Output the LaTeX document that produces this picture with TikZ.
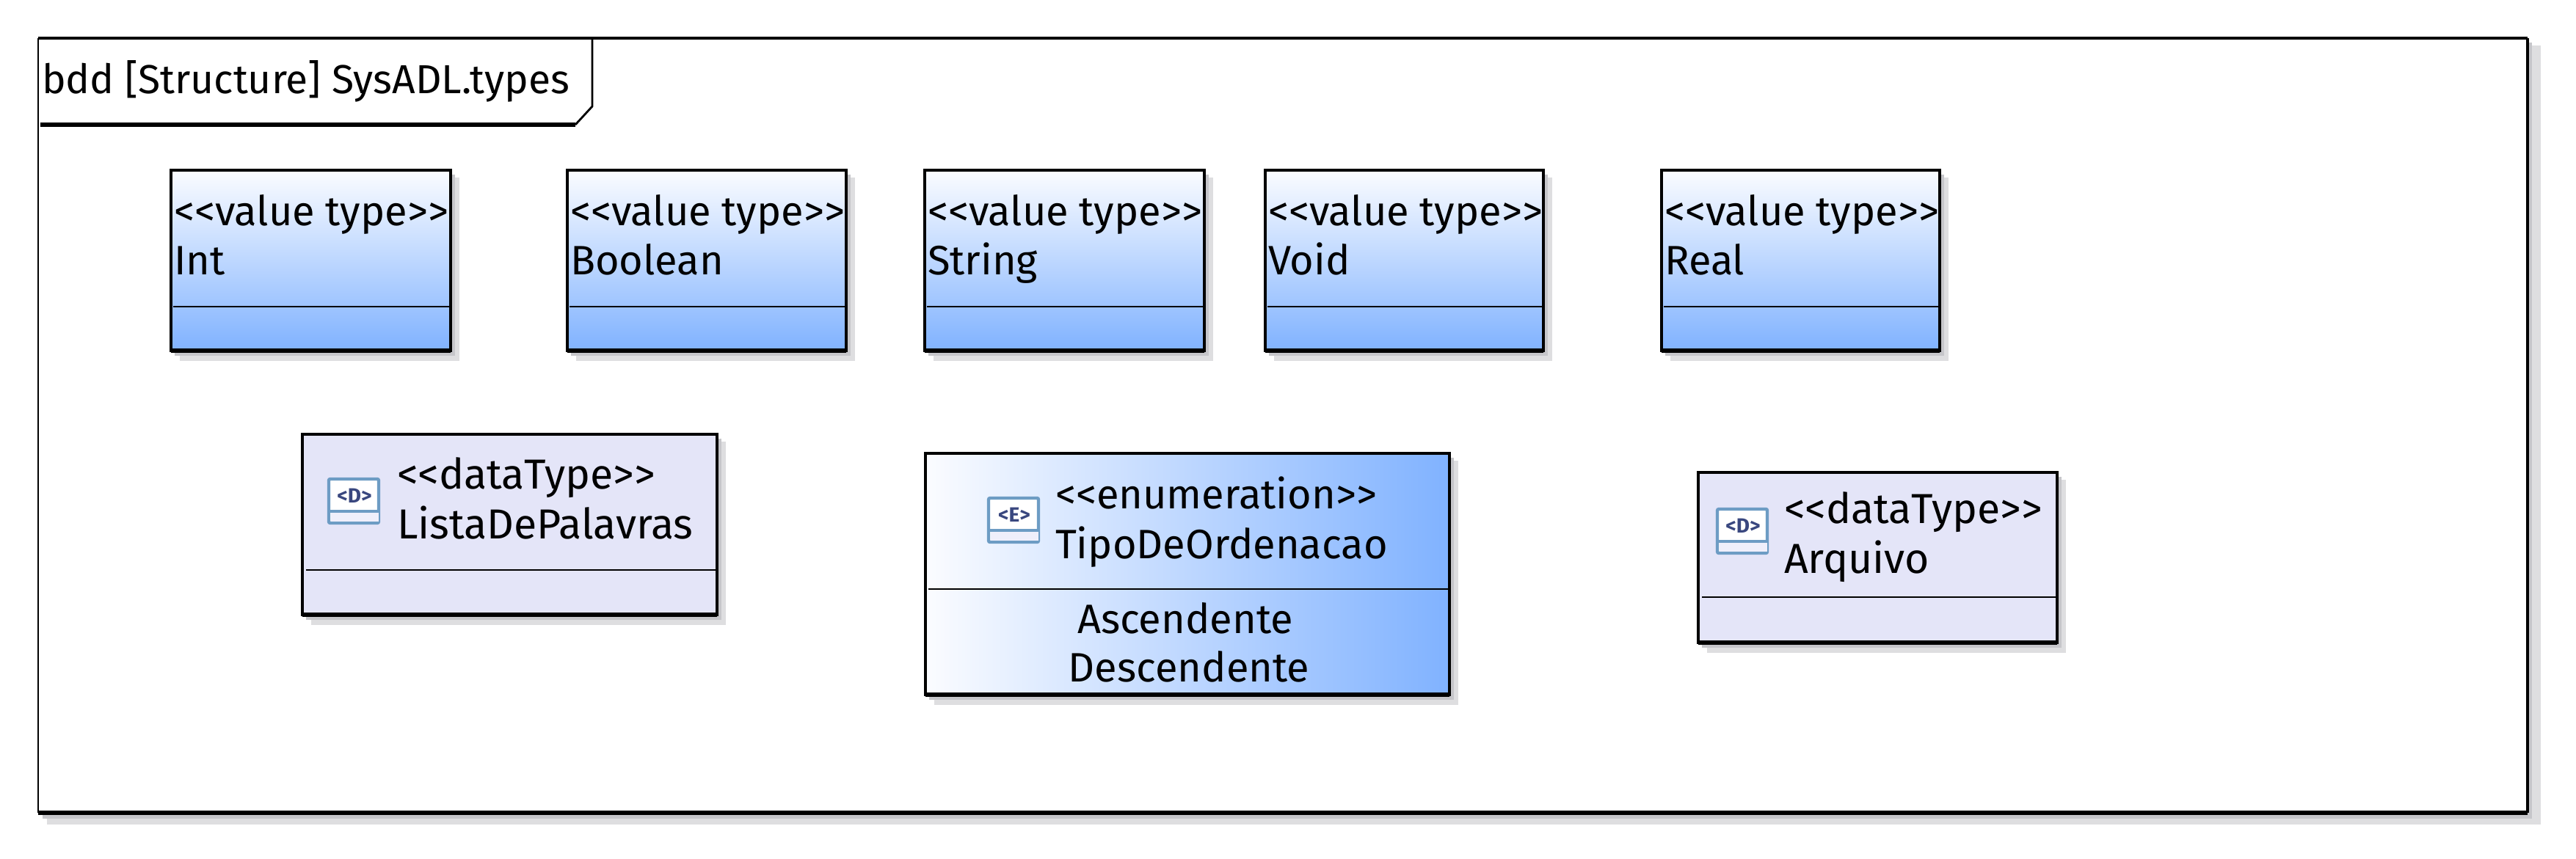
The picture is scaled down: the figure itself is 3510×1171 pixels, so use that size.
\documentclass[tikz,border=0pt]{standalone}
\usepackage{fontspec}
\setmainfont{Fira Sans}
\definecolor{gradtop}{HTML}{FBFCFF}
\definecolor{gradend}{HTML}{80B2FF}
\definecolor{datafill}{HTML}{E4E5F8}
\definecolor{shadowdark}{HTML}{C6C6CA}
\definecolor{shadowlight}{HTML}{DEDEE0}
\definecolor{iconblue}{HTML}{6D9CC4}
\definecolor{iconink}{HTML}{39477F}
\tikzset{
  every node/.style={inner sep=0pt,outer sep=0pt},
  label text/.style={font=\fontsize{28}{34}\selectfont,text=black},
  data text/.style={font=\fontsize{28.6}{34}\selectfont,text=black},
  title text/.style={font=\fontsize{27.6}{34}\selectfont,text=black},
  box base/.style={anchor=north west,rectangle},
  box edge/.style={draw=black,line width=1.9pt},
  shadow one/.style={fill=shadowlight,draw=none},
  shadow two/.style={fill=shadowdark,draw=none},
  divider/.style={draw=black,line width=1.4pt},
  heavy/.style={draw=black,line width=3pt},
}
% px = 0.5pt ; y grows downwards
\newcommand{\dropshadow}[4]{%
  \fill[shadow one] (#1+12,#2+10) rectangle (#3+12,#4+14);
  \fill[shadow two] (#1+5,#2+6) rectangle (#3+6,#4+7);
}
\newcommand{\boxnode}[6]{% name x0 y0 x1 y1 style
  \dropshadow{#2}{#3}{#4}{#5}
  \node[box base,box edge,minimum width={(#4-#2)*0.5pt},minimum height={(#5-#3)*0.5pt},#6] (#1) at (#2,#3) {};
  \draw[heavy] (#1.south west) -- (#1.south east);
}
\newcommand{\valuetype}[4]{% name x0 x1 label
  \boxnode{#1}{#2}{232}{#3}{478}{top color=gradtop,bottom color=gradend}
  \node[label text,anchor=base west] (#1s) at (#2+4,308) {<{}<value type>{}>};
  \node[label text,anchor=base west] (#1n) at (#2+4,375) {#4};
  \draw[divider] (#2+3,418) -- (#3-2,418);
}
\newcommand{\typeicon}[4]{% name x0 y0 letter
  \node[anchor=north west,draw=iconblue,line width=2.2pt,fill=white,rounded corners=1pt,minimum width=34pt,minimum height=30pt] (#1) at (#2,#3) {};
  \fill[datafill!60!white] (#2+3,#3+46) rectangle (#2+68,#3+58);
  \draw[iconblue,line width=2.2pt] (#2,#3+44) -- (#2+70,#3+44);
  \node[font=\fontsize{14}{14}\selectfont\bfseries,text=iconink,anchor=center] (#1t) at (#2+35,#3+23) {<#4>};
}
\begin{document}
\begin{tikzpicture}[x=0.5pt,y=-0.5pt]
\useasboundingbox (0,0) rectangle (3510,1171);
% frame
\fill[shadow one] (64,62) rectangle (3462,1124);
\fill[shadow two] (58,58) rectangle (3450,1116);
\node[box base,fill=white,minimum width=1696pt,minimum height=528pt] (frame) at (52,52) {};
\draw[black,line width=1.3pt] (frame.north west) -- (frame.south west);
\draw[black,line width=1.8pt] (frame.north west) -- (frame.north east);
\draw[black,line width=2.2pt] (frame.north east) -- (frame.south east);
\draw[heavy] (frame.south west) -- (frame.south east);
% title tab
\coordinate (tabTR) at (807,52);
\coordinate (tabR) at (807,145);
\coordinate (tabC) at (784,170);
\coordinate (tabL) at (55,170);
\draw[black,line width=1.4pt] (tabTR) -- (tabR) -- (tabC);
\draw[black,line width=2.8pt] (tabC) -- (tabL);
\node[title text,anchor=base west] (title) at (57,128) {bdd [Structure] SysADL.types};
% value types
\valuetype{int}{233}{614}{Int}
\valuetype{bool}{773}{1153}{Boolean}
\valuetype{str}{1260}{1641}{String}
\valuetype{void}{1724}{2103}{Void}
\valuetype{real}{2264}{2643}{Real}
% data types
\boxnode{lista}{412}{592}{977}{838}{fill=datafill}
\draw[divider] (417,777) -- (975,777);
\typeicon{listaicon}{448}{653}{D}
\node[data text,anchor=base west] (listas) at (541,666) {<{}<dataType>{}>};
\node[data text,anchor=base west] (listan) at (541,734) {ListaDePalavras};
\boxnode{arq}{2314}{644}{2803}{876}{fill=datafill}
\draw[divider] (2319,814) -- (2801,814);
\typeicon{arqicon}{2340}{694}{D}
\node[data text,anchor=base west] (arqs) at (2431,713) {<{}<dataType>{}>};
\node[data text,anchor=base west] (arqn) at (2431,781) {Arquivo};
% enumeration
\boxnode{enum}{1261}{618}{1975}{947}{left color=gradtop,right color=gradend}
\draw[divider] (1265,803) -- (1973,803);
\typeicon{enumicon}{1347}{679}{E}
\node[label text,anchor=base west] (enums) at (1438,693) {<{}<enumeration>{}>};
\node[label text,anchor=base west] (enumn) at (1438,761) {TipoDeOrdenacao};
\node[label text,anchor=base] (asc) at (1615,863) {Ascendente};
\node[label text,anchor=base] (desc) at (1620,929) {Descendente};
\end{tikzpicture}
\end{document}
